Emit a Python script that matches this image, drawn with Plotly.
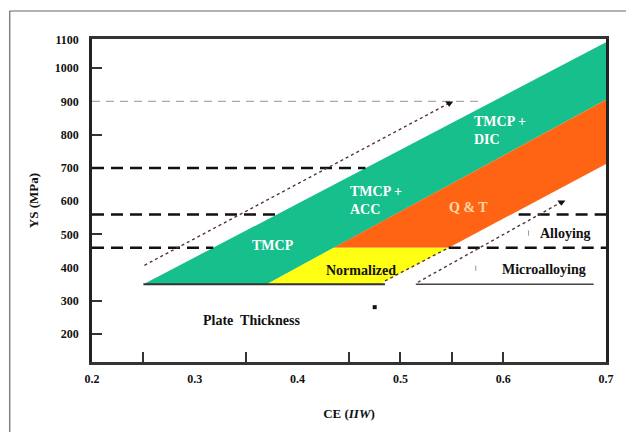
import plotly.graph_objects as go

# Axis tick labels
ce_labels = [0.2, 0.3, 0.4, 0.5, 0.6, 0.7]
ce_marks = [0.25, 0.35, 0.45, 0.5, 0.55, 0.6]
ys_labels = [200, 300, 400, 500, 600, 700, 800, 900, 1000, 1100]
ys_marks = [200, 300, 500, 800, 1000]
ce_range = [0.2, 0.7]
ys_range = [116, 1088]

# Process windows (CE vs YS polygons)
tmcp_ce = [0.25, 0.70, 0.70, 0.37]
tmcp_ys = [350, 1078, 905, 350]
qt_ce = [0.435, 0.70, 0.70, 0.547]
qt_ys = [460, 905, 712, 460]
norm_ce = [0.37, 0.435, 0.547, 0.48]
norm_ys = [350, 460, 460, 350]

# Plate-thickness base lines
base_ys = 350
base_main_ce = [0.25, 0.485]
base_micro_ce = [0.515, 0.688]

# Strength-level guide lines: (level, start CE, end CE)
guide_grey = (900, 0.2, 0.581)
guide_black = [(700, 0.2, 0.466), (560, 0.2, 0.38), (460, 0.2, 0.318),
               (560, 0.615, 0.7), (460, 0.547, 0.7)]

# Dotted trend arrows
arrow_up_ce = [0.251, 0.5475]
arrow_up_ys = [407, 895]
arrow_alloy_ce = [0.517, 0.6566]
arrow_alloy_ys = [356, 597]
norm_edge_ce = [0.485, 0.547]
norm_edge_ys = [360, 460]

serif = "Liberation Serif"
fig = go.Figure()

def poly(xs, ys, color):
    fig.add_trace(go.Scatter(x=xs + xs[:1], y=ys + ys[:1], mode="lines",
                             fill="toself", fillcolor=color,
                             line=dict(width=0, color=color),
                             hoverinfo="skip", showlegend=False))

poly(tmcp_ce, tmcp_ys, "#17bf8c")
poly(qt_ce, qt_ys, "#ff6414")
poly(norm_ce, norm_ys, "#ffff14")

def seg(xs, ys, color, width, dash="solid"):
    fig.add_trace(go.Scatter(x=xs, y=ys, mode="lines",
                             line=dict(color=color, width=width, dash=dash),
                             hoverinfo="skip", showlegend=False))

seg(base_main_ce, [base_ys, base_ys], "#333333", 2.2)
seg(base_micro_ce, [base_ys, base_ys], "#444444", 1.6)

lvl, x0, x1 = guide_grey
seg([x0, x1], [lvl, lvl], "#a8a8a8", 1.3, "8px,6px")
for lvl, x0, x1 in guide_black:
    seg([x0, x1], [lvl, lvl], "#111111", 2.4, "12px,7px")

def arrow(xs, ys):
    fig.add_trace(go.Scatter(x=xs, y=ys, mode="lines",
                             line=dict(color="#553535", width=1.4, dash="dot"),
                             hoverinfo="skip", showlegend=False))
    fig.add_trace(go.Scatter(x=xs[-1:], y=ys[-1:], mode="markers",
                             marker=dict(symbol="triangle-down", size=7,
                                         color="#111111"),
                             hoverinfo="skip", showlegend=False))

arrow(arrow_up_ce, arrow_up_ys)
arrow(arrow_alloy_ce, arrow_alloy_ys)
seg(norm_edge_ce, norm_edge_ys, "#553535", 1.4, "dot")

# small marks
fig.add_trace(go.Scatter(x=[0.475], y=[281], mode="markers",
                         marker=dict(symbol="square", size=4, color="#111111"),
                         hoverinfo="skip", showlegend=False))
seg([0.6247, 0.6247], [496, 512], "#999999", 1)
seg([0.5733, 0.5733], [390, 406], "#999999", 1)

def label(x, y, text, color="#111111", size=14, anchor="center"):
    fig.add_annotation(x=x, y=y, text=text, showarrow=False, xanchor=anchor,
                       align=anchor if anchor != "center" else "center",
                       font=dict(family=serif, size=size, color=color, weight="bold"))

label(0.3757, 468, "TMCP", "white")
label(0.449, 603, "TMCP +<br>ACC", "white", anchor="left")
label(0.5700, 812, "TMCP +<br>DIC", "white", anchor="left")
label(0.566, 582, "Q &amp; T", "#ffd9aa")
label(0.4616, 392, "Normalized")
label(0.356, 242, "Plate  Thickness")
label(0.661, 504, "Alloying")
label(0.64, 395, "Microalloying")

ys_pos = [min(v, ys_range[1] - 3) for v in ys_labels]

fig.update_layout(
    width=626, height=432,
    margin=dict(l=92, r=16, t=39, b=70),
    paper_bgcolor="white", plot_bgcolor="white",
    font=dict(family=serif, color="#111111"),
    xaxis=dict(range=ce_range, showgrid=False, zeroline=False,
               showline=True, mirror=True, linecolor="#333333", linewidth=2.5,
               tickvals=ce_labels, ticktext=[f"{v:.1f}" for v in ce_labels],
               ticks="", tickfont=dict(size=12, weight="bold"),
               ticklabelstandoff=4,
               minor=dict(tickvals=ce_marks, ticks="inside", ticklen=10,
                          tickwidth=1.5, tickcolor="#333333"),
               title=dict(text="CE (<i>IIW</i>)", standoff=24,
                          font=dict(size=13, weight="bold"))),
    yaxis=dict(range=ys_range, showgrid=False, zeroline=False,
               showline=True, mirror=True, linecolor="#222222", linewidth=2.5,
               tickvals=ys_pos, ticktext=[str(v) for v in ys_labels],
               ticks="", tickfont=dict(size=12, weight="bold"),
               ticklabelstandoff=8,
               minor=dict(tickvals=ys_marks, ticks="inside", ticklen=10,
                          tickwidth=1.5, tickcolor="#333333"),
               title=dict(text="YS (MPa)", standoff=14,
                          font=dict(size=13, weight="bold"))),
    shapes=[
        dict(type="line", xref="paper", yref="paper",
             x0=-0.16, x1=-0.16, y0=-0.3, y1=1.0867,
             line=dict(color="#666666", width=1.2)),
        dict(type="line", xref="paper", yref="paper",
             x0=-0.16, x1=1.1, y0=1.0867, y1=1.0867,
             line=dict(color="#666666", width=1.2)),
    ],
)

fig.write_html("out.html")
